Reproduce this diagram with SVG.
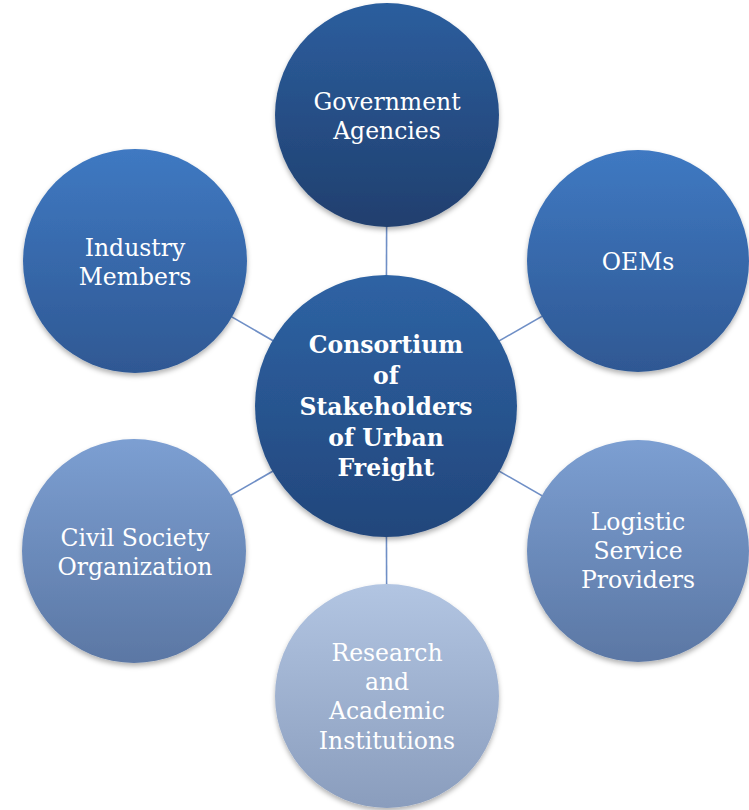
<svg xmlns="http://www.w3.org/2000/svg" width="749" height="810" viewBox="0 0 749 810">
<defs>
<linearGradient id="gDark" x1="0" y1="0" x2="0" y2="1"><stop offset="0" stop-color="#2c5e9e"/><stop offset="1" stop-color="#203f6e"/></linearGradient>
<linearGradient id="gCenter" x1="0" y1="0" x2="0" y2="1"><stop offset="0" stop-color="#2e63a4"/><stop offset="1" stop-color="#22467b"/></linearGradient>
<linearGradient id="gMid" x1="0" y1="0" x2="0" y2="1"><stop offset="0" stop-color="#3f79c2"/><stop offset="1" stop-color="#2f5893"/></linearGradient>
<linearGradient id="gLight" x1="0" y1="0" x2="0" y2="1"><stop offset="0" stop-color="#7c9fd2"/><stop offset="1" stop-color="#5b77a4"/></linearGradient>
<linearGradient id="gPale" x1="0" y1="0" x2="0" y2="1"><stop offset="0" stop-color="#b2c5e2"/><stop offset="1" stop-color="#8a9dbd"/></linearGradient>
<filter id="sh" x="-20%" y="-20%" width="140%" height="140%"><feDropShadow dx="0" dy="3" stdDeviation="2.5" flood-color="#000" flood-opacity="0.3"/></filter>
</defs>
<style>
.lbl{font-family:"DejaVu Serif","Liberation Serif",serif;font-size:23.5px;fill:#ffffff;text-anchor:middle}
.ctr{font-family:"DejaVu Serif","Liberation Serif",serif;font-size:23.5px;font-weight:bold;fill:#ffffff;text-anchor:middle}
.con{stroke:#6f8fc6;stroke-width:1.6;fill:none}
</style>
<rect width="749" height="810" fill="#ffffff"/>
<g id="connectors">
<line class="con" x1="386" y1="406" x2="387" y2="115"/>
<line class="con" x1="386" y1="406" x2="638" y2="261"/>
<line class="con" x1="386" y1="406" x2="638" y2="551"/>
<line class="con" x1="386" y1="406" x2="387" y2="696"/>
<line class="con" x1="386" y1="406" x2="134" y2="551"/>
<line class="con" x1="386" y1="406" x2="135" y2="261"/>
</g>
<g id="government">
<circle cx="387" cy="115" r="112" fill="url(#gDark)" filter="url(#sh)"/>
<text class="lbl" x="387" y="110">Government</text>
<text class="lbl" x="387" y="139">Agencies</text>
</g>
<g id="oems">
<circle cx="638" cy="261" r="111" fill="url(#gMid)" filter="url(#sh)"/>
<text class="lbl" x="638" y="270">OEMs</text>
</g>
<g id="logistic">
<circle cx="638" cy="551" r="111" fill="url(#gLight)" filter="url(#sh)"/>
<text class="lbl" x="638" y="530">Logistic</text>
<text class="lbl" x="638" y="559">Service</text>
<text class="lbl" x="638" y="588">Providers</text>
</g>
<g id="research">
<circle cx="387" cy="696" r="112" fill="url(#gPale)" filter="url(#sh)"/>
<text class="lbl" x="387" y="661">Research</text>
<text class="lbl" x="387" y="690">and</text>
<text class="lbl" x="387" y="719">Academic</text>
<text class="lbl" x="387" y="749">Institutions</text>
</g>
<g id="civil">
<circle cx="134" cy="551" r="112" fill="url(#gLight)" filter="url(#sh)"/>
<text class="lbl" x="135" y="546">Civil Society</text>
<text class="lbl" x="135" y="575">Organization</text>
</g>
<g id="industry">
<circle cx="135" cy="261" r="112" fill="url(#gMid)" filter="url(#sh)"/>
<text class="lbl" x="135" y="256">Industry</text>
<text class="lbl" x="135" y="285">Members</text>
</g>
<g id="center">
<circle cx="386" cy="406" r="131" fill="url(#gCenter)" filter="url(#sh)"/>
<text class="ctr" x="386" y="353">Consortium</text>
<text class="ctr" x="386" y="384">of</text>
<text class="ctr" x="386" y="415">Stakeholders</text>
<text class="ctr" x="386" y="446">of Urban</text>
<text class="ctr" x="386" y="476">Freight</text>
</g>
</svg>
